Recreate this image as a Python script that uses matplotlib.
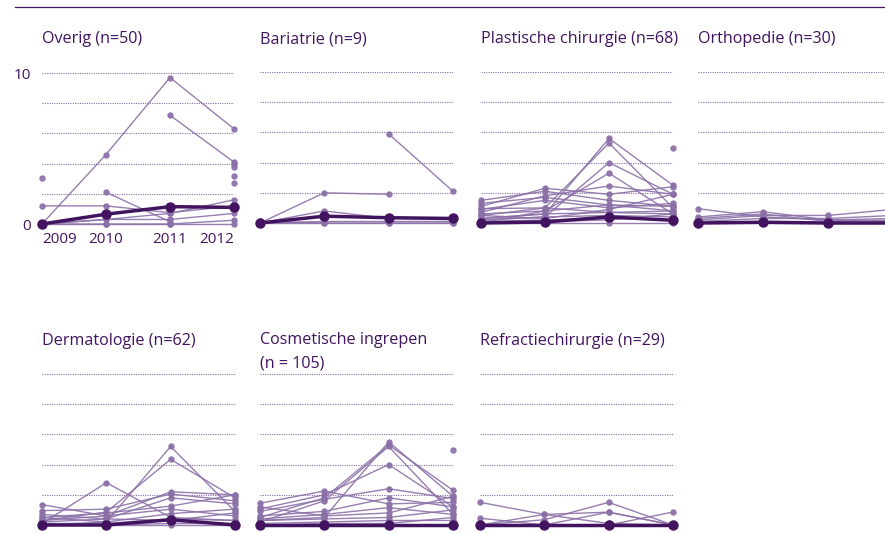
import numpy as np
import matplotlib
matplotlib.use("Agg")
import matplotlib.pyplot as plt
from matplotlib.lines import Line2D

plt.rcParams['font.family'] = ['Open Sans', 'DejaVu Sans']

nan = np.nan
years = [2009, 2010, 2011, 2012]

# per specialisme: losse instellingen (dun) en het gemiddelde (dik)
overig = [
    [0, 4.6, 9.7, 6.3],
    [nan, nan, 7.2, 4.1],
    [3.05, nan, nan, nan],
    [1.2, 1.2, 0.75, 1.2],
    [nan, 2.1, 0.15, nan],
    [nan, nan, nan, 3.95],
    [nan, nan, nan, 3.8],
    [nan, nan, nan, 3.2],
    [nan, nan, nan, 2.7],
    [0, 0.3, 0.7, 1.6],
    [0, 0.3, 0.3, 0.7],
    [0, 0, 0, 0.25],
    [0, 0, 0, 0],
]
overig_gem = [0, 0.65, 1.15, 1.1]

bariatrie = [
    [0, 2.0, 1.9, nan],
    [nan, nan, 5.9, 2.1],
    [0, 0.8, 0.3, 0.3],
    [0, 0.1, 0.1, 0.1],
    [0.1, 0, 0, 0],
    [0, 0, 0, 0],
]
bariatrie_gem = [0, 0.45, 0.35, 0.3]

plastisch = [
    [0.3, 0.6, 5.6, 2.5],
    [0.5, 1.0, 5.3, 1.0],
    [0.2, 0.4, 4.0, 1.9],
    [0.0, 0.8, 3.3, 0.6],
    [1.1, 2.3, 1.9, 2.4],
    [1.5, 2.1, 1.5, 1.1],
    [0.7, 1.8, 2.45, 1.9],
    [1.3, 1.7, 1.2, 0.8],
    [0.9, 1.5, 1.0, 1.3],
    [0.5, 0.3, 0.9, 1.9],
    [nan, nan, nan, 5.0],
    [0.95, 1.0, 0.7, 0.6],
    [0.6, 0.8, 1.2, 1.1],
    [0.3, 0.6, 0.7, 0.8],
    [0.2, 0.4, 0.5, 0.4],
    [0.1, 0.2, 0.3, 0.2],
    [0, 0.1, 0.2, 0.6],
    [0, 0, 0, 0],
]
plastisch_gem = [0, 0.07, 0.4, 0.18]

orthopedie = [
    [0.95, 0.4, 0.2, 0.3],
    [0.4, 0.75, 0.2, 0.1],
    [0.2, 0.5, 0.5, 0.9],
    [0.1, 0.3, 0.3, 0.5],
    [0.3, 0.6, 0.1, 0.2],
    [0, 0, 0, 0],
]
orthopedie_gem = [0, 0.05, 0, 0]

dermatologie = [
    [0.0, 0.2, 5.2, 0.9],
    [0.3, 0.85, 4.35, 1.8],
    [0.1, 2.8, 0.5, 0.3],
    [1.35, 0.6, 2.2, 2.0],
    [0.95, 1.05, 2.05, 1.6],
    [0.7, 0.4, 1.8, 1.4],
    [0.5, 0.8, 1.25, 2.0],
    [0.3, 0.6, 1.05, 0.6],
    [0.5, 0.2, 0.75, 1.05],
    [0.2, 0.4, 0.3, 0.8],
    [0.1, 0.1, 0.4, 0.3],
    [0, 0, 0.1, 0.1],
    [0, 0, 0, 0],
]
dermatologie_gem = [0, 0, 0.35, 0]

cosmetisch = [
    [0.3, 0.5, 5.5, 1.9],
    [0.5, 1.8, 5.3, 2.3],
    [0.2, 1.6, 5.2, 0.7],
    [1.06, 2.0, 4.0, 1.2],
    [1.44, 2.25, 1.4, 1.5],
    [0.9, 1.7, 2.4, 1.75],
    [0.6, 0.9, 1.8, 1.2],
    [0.4, 0.7, 1.15, 0.7],
    [1.2, 0.6, 0.8, 1.9],
    [0.3, 0.4, 0.5, 1.0],
    [nan, nan, nan, 4.95],
    [0.1, 0.2, 0.3, 0.3],
    [0, 0.1, 0.1, 0.5],
    [0, 0, 0, 0],
]
cosmetisch_gem = [0, 0, 0, 0]

refractie = [
    [1.5, 0.7, 0.1, 0.0],
    [0.0, 0.35, 1.5, 0.0],
    [0.45, 0.0, 0.85, 0.0],
    [0.0, 0.7, 0.85, 0.0],
    [0.0, 0.0, 0.0, 0.86],
    [0, 0, 0, 0],
]
refractie_gem = [0, 0, 0, 0]

titels = ["Overig (n=50)", "Bariatrie (n=9)", "Plastische chirurgie (n=68)",
          "Orthopedie (n=30)", "Dermatologie (n=62)",
          "Cosmetische ingrepen\n(n = 105)", "Refractiechirurgie (n=29)"]
reeksen = [overig, bariatrie, plastisch, orthopedie, dermatologie,
           cosmetisch, refractie]
gemiddelden = [overig_gem, bariatrie_gem, plastisch_gem, orthopedie_gem,
               dermatologie_gem, cosmetisch_gem, refractie_gem]

W, H = 885, 533
DONKER = '#42145f'
LICHT = '#8b70a8'

# panelranden in pixels: (x 2009, x 2012, y bij 0, y bij 10)
kaders = [(42, 234, 224, 73), (260, 453, 223, 72), (481, 673, 223, 72),
          (698, 893, 223, 72), (42, 235, 525, 374), (260, 453, 525, 374),
          (480, 673, 525, 374)]

fig = plt.figure(figsize=(W / 100, H / 100), dpi=100)
fig.add_artist(Line2D([15 / W, 1], [1 - 7 / H, 1 - 7 / H], color=DONKER,
                      lw=0.9, transform=fig.transFigure))

for i, (titel, reeks, gem, (x0, x1, y0, y1)) in enumerate(
        zip(titels, reeksen, gemiddelden, kaders)):
    ax = fig.add_axes([x0 / W, 1 - y0 / H, (x1 - x0) / W, (y0 - y1) / H])
    ax.set_xlim(2009, 2012)
    ax.set_ylim(0, 10)
    for s in ax.spines.values():
        s.set_visible(False)

    for r in reeks:
        ax.plot(years, r, color=LICHT, lw=1.0, marker='o', ms=3.6,
                alpha=0.9, clip_on=False, zorder=3)
    ax.plot(years, gem, color=DONKER, lw=2.5, marker='o', ms=6.5,
            clip_on=False, zorder=4)

    if i == 0:
        ax.set_yticks([0, 2, 4, 6, 8, 10], ['0', '', '', '', '', '10'])
        ax.get_ygridlines()[0].set_visible(False)
        ax.set_xticks(years, [str(j) for j in years])
        labels = ax.get_xticklabels()
        labels[0].set_horizontalalignment('left')
        labels[0].set_x(2008.94)
        labels[-1].set_horizontalalignment('right')
    else:
        ax.set_yticks([2, 4, 6, 8, 10], [])
        ax.set_xticks([])
    ax.tick_params(axis='y', length=0, pad=8, labelsize=11,
                   labelcolor=DONKER)
    ax.tick_params(axis='x', length=0, pad=6, labelsize=11,
                   labelcolor=DONKER)
    ax.yaxis.grid(True, color='#8a6fa8', lw=0.8, ls=(0, (1, 1.1)))
    ax.set_axisbelow(True)

    # basislijn van de laatste titelregel
    ty = (43 if i < 4 else 345) + 22 * titel.count('\n')
    fig.text(x0 / W, 1 - ty / H, titel, fontsize=11.6, color=DONKER,
             ha='left', va='baseline', linespacing=1.55)

fig.savefig('out.png', dpi=100)
